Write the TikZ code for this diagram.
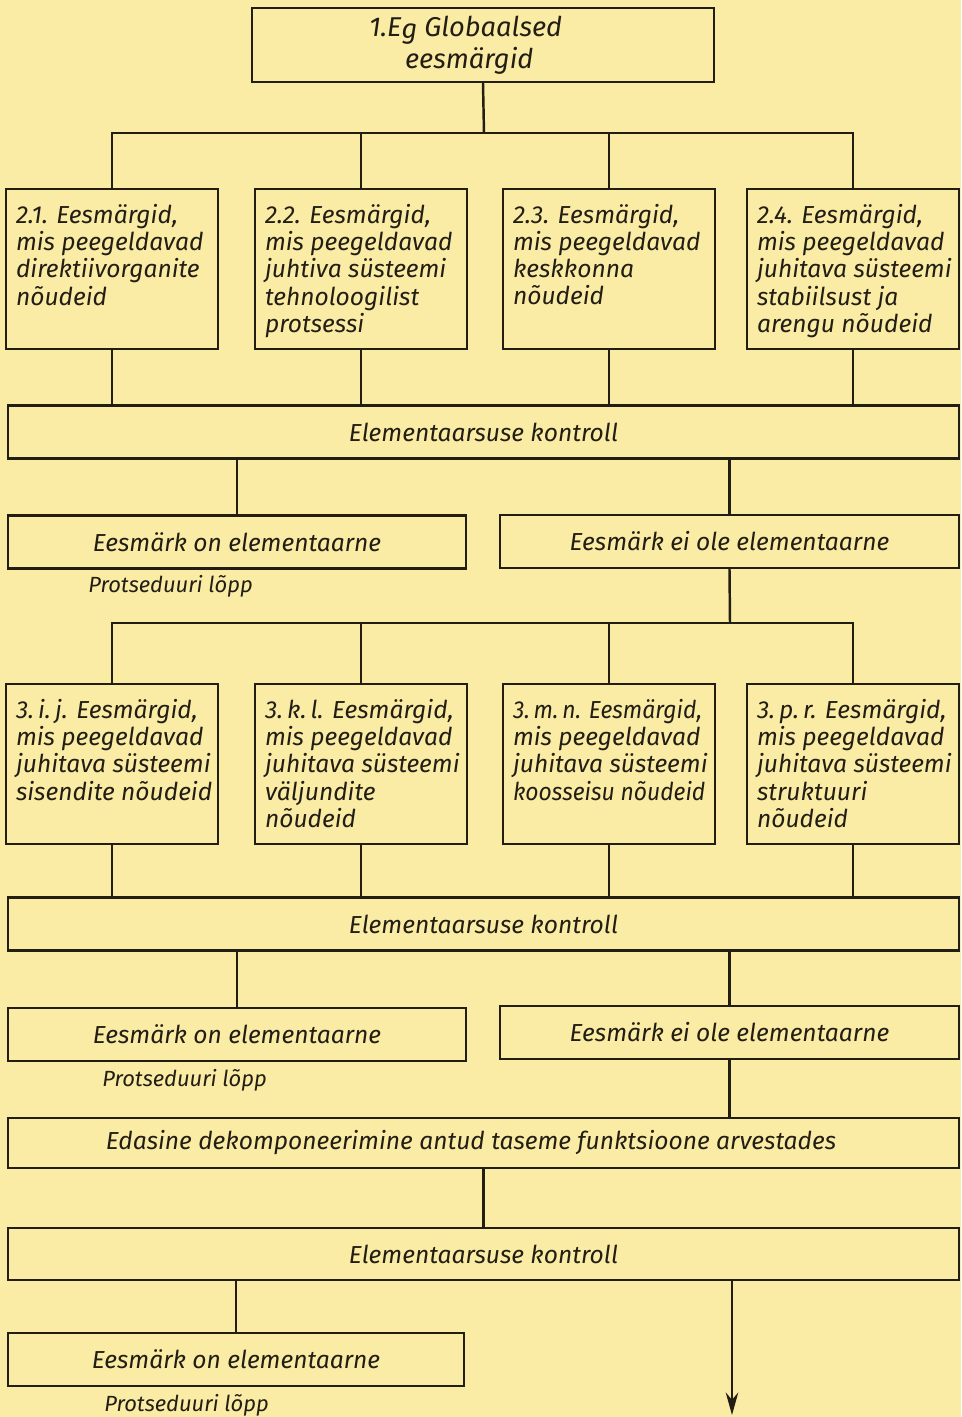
\documentclass[tikz,border=0pt]{standalone}
\usepackage{fontspec}
\usepackage{graphicx}
\setmainfont{Fira Sans}
\usetikzlibrary{arrows.meta}
\definecolor{paper}{RGB}{250,236,165}
\definecolor{ink}{RGB}{35,30,20}
\tikzset{
  box/.style={draw=ink, line width=1.4pt, inner sep=0pt, text=ink,
    font=\itshape\fontsize{14}{15.3}\selectfont},
  goal/.style={box, inner xsep=0.2cm, inner ysep=0.3cm, anchor=north},
  wide/.style={box, minimum height=1.06cm},
  wire/.style={draw=ink, line width=1.4pt},
  note/.style={anchor=west, inner sep=0pt, text=ink,
    font=\itshape\fontsize{12.5}{14}\selectfont}
}
\newcommand{\goaltext}[1]{\parbox[t][2.6cm][t]{3.84cm}{\begin{tabular}[t]{@{}l@{}}#1\end{tabular}}}
\newcommand{\tight}[1]{\scalebox{0.93}[1]{#1}}
\begin{document}
\begin{tikzpicture}[x=0.02cm,y=-0.02cm]
\fill[paper] (0,0) rectangle (961,1417);
\useasboundingbox (0,0) rectangle (961,1417);
% 1. tase
\node[box, minimum width=9.24cm, minimum height=1.48cm, align=center,
  font=\itshape\fontsize{15.5}{18.5}\selectfont] (g1) at (483,45)
  {1.E\smash{\raisebox{-0.2ex}{g}} Globaalsed\hspace*{0.7cm}\\ eesmärgid\hspace*{0.55cm}};
\coordinate (bus1) at (484,133);
\draw[wire] (g1.south) -- (bus1);
% 2. tase
\foreach \n/\x/\txt in {
  1/112/{2.1. Eesmärgid,\\ mis peegeldavad\\ direktiivorganite\\ nõudeid},
  2/361/{2.2. Eesmärgid,\\ mis peegeldavad\\ juhtiva süsteemi\\ tehnoloogilist\\ protsessi},
  3/609/{2.3. Eesmärgid,\\ mis peegeldavad\\ keskkonna\\ nõudeid},
  4/853/{2.4. Eesmärgid,\\ mis peegeldavad\\ juhitava süsteemi\\ stabiilsust ja\\ arengu nõudeid}}{
  \node[goal] (g2\n) at (\x,188) {\goaltext{\txt}};
  \draw[wire] (bus1) -| (g2\n.north);
}
\node[wide, minimum width=19.02cm] (ek1) at (483.5,432) {Elementaarsuse kontroll};
\foreach \n in {1,...,4}
  \draw[wire] (g2\n.south) -- (g2\n.south |- ek1.north);
\node[wide, minimum width=9.16cm] (on1) at (237,542) {Eesmärk on elementaarne};
\node[wide, minimum width=9.18cm] (ei1) at (729.5,541.5) {Eesmärk ei ole elementaarne};
\node[note] (lopp1) at (88,586) {Protseduuri lõpp};
\draw[wire] (on1.north |- ek1.south) -- (on1.north);
\draw[wire] (ei1.north |- ek1.south) -- (ei1.north);
\coordinate (bus2) at (730,623);
\draw[wire] (ei1.south) -- (bus2);
% 3. tase
\foreach \n/\x/\txt in {
  1/112/{3.\,i.\,j. Eesmärgid,\\ mis peegeldavad\\ juhitava süsteemi\\ sisendite nõudeid},
  2/361/{3.\,k.\,l. Eesmärgid,\\ mis peegeldavad\\ juhitava süsteemi\\ väljundite\\ nõudeid},
  3/609/{\tight{3.\,m.\,n. Eesmärgid,}\\ mis peegeldavad\\ juhitava süsteemi\\ \tight{koosseisu nõudeid}},
  4/853/{3.\,p.\,r. Eesmärgid,\\ mis peegeldavad\\ juhitava süsteemi\\ struktuuri\\ nõudeid}}{
  \node[goal] (g3\n) at (\x,683) {\goaltext{\txt}};
  \draw[wire] (bus2) -| (g3\n.north);
}
\node[wide, minimum width=19.02cm] (ek2) at (483.5,924) {Elementaarsuse kontroll};
\foreach \n in {1,...,4}
  \draw[wire] (g3\n.south) -- (g3\n.south |- ek2.north);
\node[wide, minimum width=9.16cm] (on2) at (237,1034.5) {Eesmärk on elementaarne};
\node[wide, minimum width=9.18cm] (ei2) at (729.5,1032.5) {Eesmärk ei ole elementaarne};
\node[note] (lopp2) at (102,1080) {Protseduuri lõpp};
\draw[wire] (on2.north |- ek2.south) -- (on2.north);
\draw[wire] (ei2.north |- ek2.south) -- (ei2.north);
% edasi
\node[wide, minimum width=19.02cm, minimum height=1cm] (ed) at (483.5,1143)
  {Edasine dekomponeerimine antud taseme funktsioone arvestades\hspace*{0.5cm}};
\draw[wire] (ei2.south) -- (ei2.south |- ed.north);
\node[wide, minimum width=19.02cm, minimum height=1.04cm] (ek3) at (483.5,1254) {Elementaarsuse kontroll};
\draw[wire] (ed.south) -- (ek3.north);
\node[wide, minimum width=9.12cm] (on3) at (236,1359.5) {Eesmärk on elementaarne};
\node[note] (lopp3) at (104,1405) {Protseduuri lõpp};
\draw[wire] (on3.north |- ek3.south) -- (on3.north);
\coordinate (exit) at (732,1415);
\draw[wire, -{Stealth[length=0.45cm,width=0.25cm]}] (exit |- ek3.south) -- (exit);
\end{tikzpicture}
\end{document}
